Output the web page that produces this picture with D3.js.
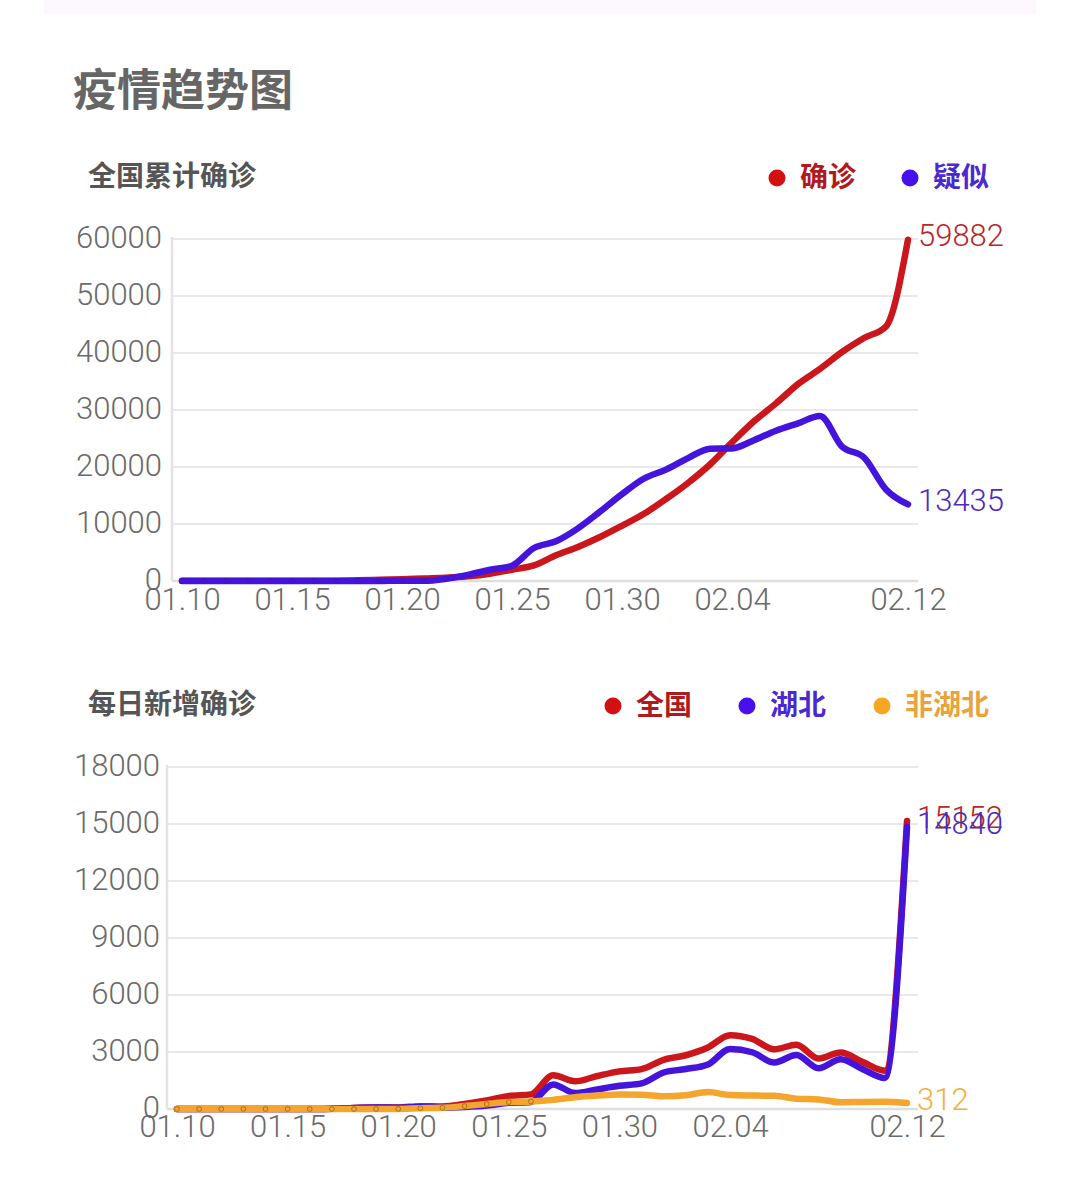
<!DOCTYPE html>
<html><head><meta charset="utf-8">
<script src="https://cdn.jsdelivr.net/npm/d3@7"></script>
<style>
html,body{margin:0;padding:0;background:#fff;}
svg{display:block;}
</style></head>
<body>
<script>
// ---------- DATA ----------
const dates = ["01.10","01.11","01.12","01.13","01.14","01.15","01.16","01.17","01.18","01.19",
  "01.20","01.21","01.22","01.23","01.24","01.25","01.26","01.27","01.28","01.29",
  "01.30","01.31","02.01","02.02","02.03","02.04","02.05","02.06","02.07","02.08",
  "02.09","02.10","02.11","02.12"];
const xTickLabels = ["01.10","01.15","01.20","01.25","01.30","02.04","02.12"];

// cumulative chart
const cumTicks = [0,10000,20000,30000,40000,50000,60000];
const cumConfirmed = [41,41,41,41,41,41,45,62,121,198,
  291,440,571,830,1287,1975,2744,4515,5974,7711,
  9692,11791,14380,17205,20438,24324,28018,31161,34546,37198,
  40171,42638,44653,59882];
const cumSuspected = [0,0,0,0,0,0,0,0,0,0,
  54,37,393,1072,1965,2684,5794,6973,9239,12167,
  15238,17988,19544,21558,23214,23260,24702,26359,27657,28942,
  23589,21675,16067,13435];

// daily new chart
const dailyTicks = [0,3000,6000,9000,12000,15000,18000];
const dailyNational = [0,0,0,0,0,0,4,17,59,77,
  77,149,131,259,444,688,769,1771,1459,1737,
  1982,2102,2590,2829,3235,3887,3694,3143,3385,2652,
  2973,2467,2015,15152];
const dailyHubei = [0,0,0,0,0,0,4,17,59,77,
  72,105,69,105,180,323,371,1291,840,1032,
  1220,1347,1921,2103,2345,3156,2987,2447,2841,2147,
  2618,2097,1638,14840];
const dailyOther = [0,0,0,0,0,0,0,0,0,0,
  5,44,62,154,264,365,398,480,619,705,
  762,755,669,726,890,731,707,696,544,505,
  355,370,377,312];

const chart1Series = [
  {name:"确诊", values:cumConfirmed, line:"#cb161c", dot:"#d40f12", text:"#b01a1e", label:"#b5282c"},
  {name:"疑似", values:cumSuspected, line:"#4414dc", dot:"#4711ee", text:"#4a2ad0", label:"#4a2cbf"}
];
const chart2Series = [
  {name:"全国", values:dailyNational, line:"#cb161c", dot:"#d40f12", text:"#b01a1e", label:"#b5282c"},
  {name:"湖北", values:dailyHubei, line:"#4414dc", dot:"#4711ee", text:"#4a2ad0", label:"#4a2cbf"},
  {name:"非湖北", values:dailyOther, line:"#f4a52e", dot:"#f6a623", text:"#e8a33c", label:"#f0b040"}
];

// ---------- DRAW ----------
const W = 1080, H = 1184;
const svg = d3.select("body").append("svg").attr("width", W).attr("height", H);

svg.append("rect").attr("x",44).attr("y",0).attr("width",992).attr("height",14).attr("fill","#fdf8fe");

const cjk = "'Noto Sans CJK SC','Noto Sans',sans-serif";
const num = "Roboto,'Noto Sans',sans-serif";

svg.append("text").attr("x",73).attr("y",87).attr("dominant-baseline","central")
  .attr("font-family",cjk).attr("font-weight",700).attr("font-size",44).attr("fill","#666")
  .text("疫情趋势图");

function drawChart(cfg){
  const g = svg.append("g");
  // subtitle
  g.append("text").attr("x",88).attr("y",cfg.titleY).attr("dominant-baseline","central")
    .attr("font-family",cjk).attr("font-weight",700).attr("font-size",28).attr("fill","#555")
    .text(cfg.title);
  // legend
  cfg.series.forEach((s,i)=>{
    const lx = cfg.legendX[i];
    g.append("circle").attr("cx",lx).attr("cy",cfg.legendY+3).attr("r",8.5).attr("fill",s.dot);
    g.append("text").attr("x",lx+23).attr("y",cfg.legendY).attr("dominant-baseline","central")
      .attr("font-family",cjk).attr("font-weight",700).attr("font-size",28).attr("fill",s.text)
      .text(s.name);
  });

  const x = d3.scalePoint().domain(dates).range([cfg.x0,cfg.x1]);
  const y = d3.scaleLinear().domain([0,d3.max(cfg.ticks)]).range([cfg.y0,cfg.yTop]);

  // grid
  g.selectAll(".grid").data(cfg.ticks.filter(t=>t>0)).join("line")
    .attr("x1",cfg.axisX).attr("x2",cfg.gridRight)
    .attr("y1",d=>y(d)).attr("y2",d=>y(d))
    .attr("stroke","#ece7ec").attr("stroke-width",2);
  g.append("line").attr("x1",cfg.axisX).attr("x2",cfg.gridRight).attr("y1",y(0)).attr("y2",y(0))
    .attr("stroke","#dedede").attr("stroke-width",2.5);
  g.append("line").attr("x1",cfg.axisX).attr("x2",cfg.axisX).attr("y1",cfg.yTop-2).attr("y2",y(0))
    .attr("stroke","#e6e2e6").attr("stroke-width",2.5);

  const yAxis = d3.axisLeft(y).tickValues(cfg.ticks).tickFormat(d3.format("d")).tickSize(0).tickPadding(0);
  const ga = g.append("g").attr("transform",`translate(${cfg.axisX},0)`).call(yAxis);
  ga.select(".domain").remove();
  ga.selectAll(".tick line").remove();
  ga.selectAll(".tick text").attr("x",-cfg.labelGap).attr("dy",null).attr("y",8)
    .attr("dominant-baseline","auto")
    .attr("font-family",num).attr("font-weight",300).attr("font-size",31).attr("fill","#6a6a6a");

  // x axis labels
  const xAxis = d3.axisBottom(x).tickValues(xTickLabels).tickSize(0).tickPadding(0);
  const gx = g.append("g").attr("transform",`translate(0,${cfg.xLabelY})`).call(xAxis);
  gx.select(".domain").remove();
  gx.selectAll(".tick text").attr("y",0).attr("dy",null).attr("dominant-baseline","auto")
    .attr("font-family",num).attr("font-weight",300).attr("font-size",31).attr("fill","#6a6a6a");

  // lines
  const line = d3.line().x((d,i)=>x(dates[i])).y(d=>y(d)).curve(d3.curveMonotoneX);
  cfg.series.forEach(s=>{
    g.append("path").attr("d",line(s.values)).attr("fill","none")
      .attr("stroke",s.line).attr("stroke-width",6.5).attr("stroke-linejoin","round").attr("stroke-linecap","round");
  });
  // markers on early flat points of top series
  const top = cfg.series[cfg.series.length-1];
  g.selectAll(".mk").data(top.values.slice(0,cfg.markerCount)).join("circle")
    .attr("cx",(d,i)=>x(dates[i])).attr("cy",d=>y(d)).attr("r",2.4)
    .attr("fill","none").attr("stroke",cfg.markerStroke).attr("stroke-width",0.9);

  // end labels
  cfg.series.forEach(s=>{
    const v = s.values[s.values.length-1];
    g.append("text").attr("x",cfg.x1+10).attr("y",y(v)-4).attr("dominant-baseline","central")
      .attr("font-family",num).attr("font-weight",300).attr("font-size",31).attr("fill",s.label)
      .text(v);
  });
}

drawChart({title:"全国累计确诊", titleY:174, legendY:175, legendX:[777,910],
  series:chart1Series, ticks:cumTicks, x0:182, x1:908, y0:581, yTop:239,
  axisX:172, gridRight:918, labelGap:10, xLabelY:610, markerCount:13, markerStroke:"rgba(60,20,120,0.35)"});

drawChart({title:"每日新增确诊", titleY:702, legendY:703, legendX:[613,747,882],
  series:chart2Series, ticks:dailyTicks, x0:177, x1:907, y0:1109, yTop:767,
  axisX:167, gridRight:918, labelGap:7, xLabelY:1137, markerCount:17, markerStroke:"rgba(110,70,10,0.6)"});
</script>
</body></html>
